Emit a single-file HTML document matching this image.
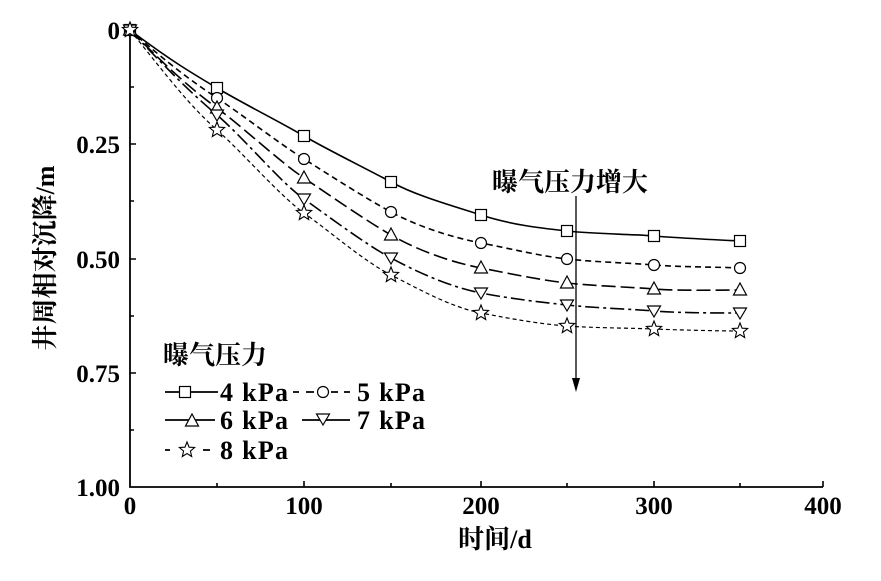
<!DOCTYPE html>
<html><head><meta charset="utf-8"><style>
body{margin:0;background:#fff}
svg text{font-family:"Liberation Serif","Noto Serif CJK SC",serif;font-weight:bold;fill:#000}
</style></head><body>
<svg width="881" height="576" viewBox="0 0 881 576" xmlns="http://www.w3.org/2000/svg">
<defs>
<symbol id="sq" overflow="visible"><rect x="-5.5" y="-5.5" width="11" height="11" fill="#fff" stroke="#000" stroke-width="1.2"/></symbol>
<symbol id="ci" overflow="visible"><circle r="5.5" fill="#fff" stroke="#000" stroke-width="1.2"/></symbol>
<symbol id="tu" overflow="visible"><polygon points="0,-7 6.5,5 -6.5,5" fill="#fff" stroke="#000" stroke-width="1.2"/></symbol>
<symbol id="td" overflow="visible"><polygon points="0,6 6.5,-5 -6.5,-5" fill="#fff" stroke="#000" stroke-width="1.2"/></symbol>
<symbol id="st" overflow="visible"><polygon points="0,-8 2.1,-2.8 7.6,-2.5 3.4,1.1 4.7,6.5 0,3.5 -4.7,6.5 -3.4,1.1 -7.6,-2.5 -2.1,-2.8" fill="#fff" stroke="#000" stroke-width="1.1"/></symbol>
</defs>
<g fill="none" stroke="#000" stroke-width="1.6">
<path d="M130,30 C170,60 190,72 217,88 S280,122 304,136 S365,168 391,182 S450,205 481,215 S540,228 567,231 S630,234 654,236 S720,240 740,241"/>
<path stroke-dasharray="6,4" d="M130,30 C170,65 190,80 217,98 S280,144 304,159 S365,198 391,212 S450,237 481,243 S540,256 567,259 S630,263 654,265 S720,267 740,268"/>
<path stroke-dasharray="14,5" d="M130,30 C170,70 190,88 217,108 S280,162 304,178 S365,220 391,235 S450,262 481,268 S540,280 567,283 S630,287 654,289 S720,290 740,290"/>
<path stroke-dasharray="14,4,3,4" d="M130,30 C170,72 190,92 217,115 S280,182 304,199 S365,244 391,258 S450,287 481,293 S540,302 567,305 S630,309 654,311 S720,313 740,313"/>
<path stroke-dasharray="4,3" stroke-width="1.2" d="M130,30 C170,80 190,106 217,130 S280,196 304,213 S365,262 391,275 S450,307 481,313 S540,324 567,326 S630,328 654,329 S720,331 740,331"/>
<path d="M130,30 V487 H823" stroke-width="1.8"/>
<path d="M304,487v-6M481,487v-6M654,487v-6M823,487v-6M217,487v-4M391,487v-4M567,487v-4M740,487v-4M130,144h6M130,259h6M130,373h6M130,87h4M130,201h4M130,316h4M130,430h4"/>
<path d="M576,196 V385" stroke-width="1.3"/>
</g>
<polygon points="572,378 580,378 576,392" fill="#000"/>
<g>
<use href="#sq" x="130" y="30"/><use href="#sq" x="217" y="88"/><use href="#sq" x="304" y="136"/><use href="#sq" x="391" y="182"/><use href="#sq" x="481" y="215"/><use href="#sq" x="567" y="231"/><use href="#sq" x="654" y="236"/><use href="#sq" x="740" y="241"/>
<use href="#ci" x="130" y="30"/><use href="#ci" x="217" y="98"/><use href="#ci" x="304" y="159"/><use href="#ci" x="391" y="212"/><use href="#ci" x="481" y="243"/><use href="#ci" x="567" y="259"/><use href="#ci" x="654" y="265"/><use href="#ci" x="740" y="268"/>
<use href="#tu" x="130" y="30"/><use href="#tu" x="217" y="108"/><use href="#tu" x="304" y="178"/><use href="#tu" x="391" y="235"/><use href="#tu" x="481" y="268"/><use href="#tu" x="567" y="283"/><use href="#tu" x="654" y="289"/><use href="#tu" x="740" y="290"/>
<use href="#td" x="130" y="30"/><use href="#td" x="217" y="115"/><use href="#td" x="304" y="199"/><use href="#td" x="391" y="258"/><use href="#td" x="481" y="293"/><use href="#td" x="567" y="305"/><use href="#td" x="654" y="311"/><use href="#td" x="740" y="313"/>
<use href="#st" x="130" y="30"/><use href="#st" x="217" y="130"/><use href="#st" x="304" y="213"/><use href="#st" x="391" y="275"/><use href="#st" x="481" y="313"/><use href="#st" x="567" y="326"/><use href="#st" x="654" y="329"/><use href="#st" x="740" y="331"/>
</g>
<g font-size="25" text-anchor="end">
<text x="120" y="39">0</text><text x="120" y="153">0.25</text><text x="120" y="268">0.50</text><text x="120" y="382">0.75</text><text x="120" y="496">1.00</text>
</g>
<g font-size="25" text-anchor="middle">
<text x="130" y="514">0</text><text x="304" y="514">100</text><text x="481" y="514">200</text><text x="654" y="514">300</text><text x="823" y="514">400</text>
<text x="495" y="548" font-size="26">时间/d</text>
</g>
<text transform="translate(54,258) rotate(-90)" font-size="26" text-anchor="middle">井周相对沉降/m</text>
<text x="492" y="191" font-size="26">曝气压力增大</text>
<text x="163" y="364" font-size="26">曝气压力</text>
<g fill="none" stroke="#000" stroke-width="1.8">
<path d="M165,392h53"/><path d="M293,392h6M306,392h8M331,392h7M344,392h6"/><path d="M165,420h50"/><path d="M302,420h48"/><path d="M165,450h5M203,450h7"/>
</g>
<use href="#sq" x="185" y="392"/><use href="#ci" x="323" y="392"/><use href="#tu" x="192" y="421"/><use href="#td" x="323" y="419"/><use href="#st" x="187" y="450"/>
<g font-size="26"><text x="220" y="401" textLength="68">4 kPa</text><text x="357" y="401" textLength="68">5 kPa</text><text x="220" y="429" textLength="68">6 kPa</text><text x="357" y="429" textLength="68">7 kPa</text><text x="220" y="459" textLength="68">8 kPa</text></g>
</svg>
</body></html>
